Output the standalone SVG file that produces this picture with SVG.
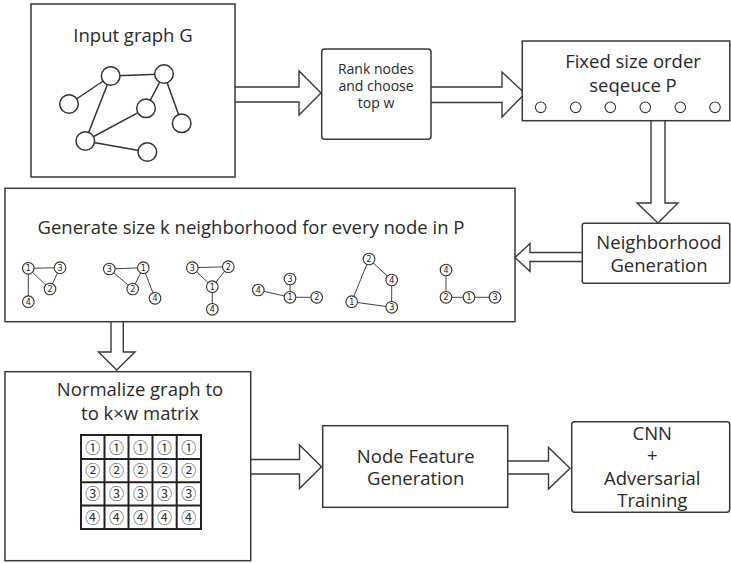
<svg xmlns="http://www.w3.org/2000/svg" width="731" height="563" viewBox="0 0 731 563">
  <style>
    .box { fill: #fff; stroke: #3a3a3a; stroke-width: 1.5; }
    .arrow { fill: #fff; stroke: #3a3a3a; stroke-width: 1.4; stroke-linejoin: miter; }
    .edge { stroke: #333; stroke-width: 1.5; fill: none; }
    .gnode { fill: #fff; stroke: #333; stroke-width: 1.5; }
    .snode { fill: #fff; stroke: #333; stroke-width: 1.1; }
    .sedge { stroke: #444; stroke-width: 1; fill: none; }
    .lbl { font-family: "Open Sans", "Noto Sans", sans-serif; fill: #2a2a2a; text-anchor: middle; }
    .big { font-size: 18.5px; }
    .small { font-size: 14px; }
    .num { font-family: "DejaVu Sans", sans-serif; font-size: 8px; fill: #222; text-anchor: middle; }
    .cell { font-family: "Noto Sans CJK SC", "DejaVu Sans", sans-serif; font-size: 15px; fill: #333; text-anchor: middle; }
    .grid { stroke: #222; stroke-width: 2; fill: none; }
  </style>

  <!-- connectors: hollow block arrows -->
  <g id="connectors">
    <path class="arrow" d="M235,87 H299 V71 L321,93 L299,115 V102 H235"/>
    <path class="arrow" d="M431,87 H502 V72 L525,93.5 L502,117 V102.5 H431"/>
    <path class="arrow" d="M651,121 V203 H637 L658,223 L678,203 H665 V121"/>
    <path class="arrow" d="M582,252.5 H530 V243.5 L515,257.5 L530,271.5 V261.5 H582"/>
    <path class="arrow" d="M111,322 V352 H98.5 L116.7,370 L135,352 H123.3 V322"/>
    <path class="arrow" d="M251,459.5 H299.5 V445 L321.5,466.7 L299.5,488.5 V474 H251"/>
    <path class="arrow" d="M508,461 H548.5 V447.5 L570,468.3 L548.5,489 V474 H508"/>
  </g>

  <!-- input graph -->
  <g id="input-graph">
    <rect class="box" x="31" y="4" width="204" height="173"/>
    <text class="lbl big" x="133" y="42">Input graph G</text>
    <g class="edge">
      <line x1="110.7" y1="76" x2="164" y2="74"/>
      <line x1="110.7" y1="76" x2="69" y2="104"/>
      <line x1="110.7" y1="76" x2="85.3" y2="141"/>
      <line x1="164" y1="74" x2="146" y2="108.3"/>
      <line x1="164" y1="74" x2="181.7" y2="123.3"/>
      <line x1="146" y1="108.3" x2="85.3" y2="141"/>
      <line x1="85.3" y1="141" x2="147.3" y2="152"/>
    </g>
    <circle class="gnode" cx="110.7" cy="76" r="9.3"/>
    <circle class="gnode" cx="164" cy="74" r="9.3"/>
    <circle class="gnode" cx="69" cy="104" r="9.3"/>
    <circle class="gnode" cx="146" cy="108.3" r="9.3"/>
    <circle class="gnode" cx="181.7" cy="123.3" r="9.3"/>
    <circle class="gnode" cx="85.3" cy="141" r="9.3"/>
    <circle class="gnode" cx="147.3" cy="152" r="9.3"/>
  </g>

  <!-- ranking step -->
  <g id="rank-nodes">
    <rect class="box" x="321.7" y="49" width="109.3" height="90.3" rx="3"/>
    <text class="lbl small" x="376" y="74">Rank nodes</text>
    <text class="lbl small" x="376" y="91">and choose</text>
    <text class="lbl small" x="376" y="108">top w</text>
  </g>

  <!-- ordered node sequence -->
  <g id="order-sequence">
    <rect class="box" x="522.3" y="41" width="207.5" height="79.7"/>
    <text class="lbl big" x="633" y="68">Fixed size order</text>
    <text class="lbl big" x="633" y="91.5">seqeuce P</text>
    <g class="snode">
      <circle cx="540.7" cy="107.3" r="5.3"/>
      <circle cx="575.7" cy="107.3" r="5.3"/>
      <circle cx="610.3" cy="107.3" r="5.3"/>
      <circle cx="645.3" cy="107.3" r="5.3"/>
      <circle cx="680.3" cy="107.3" r="5.3"/>
      <circle cx="715" cy="107.3" r="5.3"/>
    </g>
  </g>

  <!-- neighborhood generation -->
  <g id="neighborhood-generation">
    <rect class="box" x="582.3" y="223.3" width="147.5" height="60" rx="2"/>
    <text class="lbl big" x="659" y="248.5">Neighborhood</text>
    <text class="lbl big" x="659" y="271.5">Generation</text>
  </g>

  <!-- neighborhoods of size k -->
  <g id="neighborhoods">
    <rect class="box" x="5" y="188.3" width="510" height="133.4"/>
    <text class="lbl big" x="251" y="233.5">Generate size k neighborhood for every node in P</text>

    <!-- edges -->
    <g class="sedge">
      <line x1="28.3" y1="268.3" x2="60" y2="267.7"/>
      <line x1="28.3" y1="268.3" x2="50" y2="289"/>
      <line x1="60" y1="267.7" x2="50" y2="289"/>
      <line x1="28.3" y1="268.3" x2="28.3" y2="301.7"/>

      <line x1="109.3" y1="269" x2="143.3" y2="267.7"/>
      <line x1="109.3" y1="269" x2="132.7" y2="289"/>
      <line x1="143.3" y1="267.7" x2="132.7" y2="289"/>
      <line x1="143.3" y1="267.7" x2="155" y2="298.3"/>

      <line x1="192.3" y1="267.7" x2="228.3" y2="266.7"/>
      <line x1="192.3" y1="267.7" x2="212.3" y2="286.7"/>
      <line x1="228.3" y1="266.7" x2="212.3" y2="286.7"/>
      <line x1="212.3" y1="286.7" x2="212.3" y2="309.3"/>

      <line x1="290" y1="279" x2="290" y2="297.3"/>
      <line x1="258.3" y1="290" x2="290" y2="297.3"/>
      <line x1="290" y1="297.3" x2="316.7" y2="297.3"/>

      <line x1="369" y1="259" x2="391.7" y2="280"/>
      <line x1="391.7" y1="280" x2="391.7" y2="307.3"/>
      <line x1="369" y1="259" x2="351.7" y2="301.7"/>
      <line x1="351.7" y1="301.7" x2="391.7" y2="307.3"/>

      <line x1="446" y1="270" x2="446" y2="297.3"/>
      <line x1="446" y1="297.3" x2="469" y2="297.3"/>
      <line x1="469" y1="297.3" x2="495" y2="297.3"/>
    </g>

    <!-- nodes -->
    <g class="snode">
      <circle cx="28.3" cy="268.3" r="5.8"/>
      <circle cx="60" cy="267.7" r="5.8"/>
      <circle cx="50" cy="289" r="5.8"/>
      <circle cx="28.3" cy="301.7" r="5.8"/>

      <circle cx="109.3" cy="269" r="5.8"/>
      <circle cx="143.3" cy="267.7" r="5.8"/>
      <circle cx="132.7" cy="289" r="5.8"/>
      <circle cx="155" cy="298.3" r="5.8"/>

      <circle cx="192.3" cy="267.7" r="5.8"/>
      <circle cx="228.3" cy="266.7" r="5.8"/>
      <circle cx="212.3" cy="286.7" r="5.8"/>
      <circle cx="212.3" cy="309.3" r="5.8"/>

      <circle cx="290" cy="279" r="5.8"/>
      <circle cx="258.3" cy="290" r="5.8"/>
      <circle cx="290" cy="297.3" r="5.8"/>
      <circle cx="316.7" cy="297.3" r="5.8"/>

      <circle cx="369" cy="259" r="5.8"/>
      <circle cx="391.7" cy="280" r="5.8"/>
      <circle cx="391.7" cy="307.3" r="5.8"/>
      <circle cx="351.7" cy="301.7" r="5.8"/>

      <circle cx="446" cy="270" r="5.8"/>
      <circle cx="446" cy="297.3" r="5.8"/>
      <circle cx="469" cy="297.3" r="5.8"/>
      <circle cx="495" cy="297.3" r="5.8"/>
    </g>

    <!-- node numbers -->
    <g class="num">
      <text x="28.3" y="271.2">1</text>
      <text x="60" y="270.6">3</text>
      <text x="50" y="291.9">2</text>
      <text x="28.3" y="304.6">4</text>

      <text x="109.3" y="271.9">3</text>
      <text x="143.3" y="270.6">1</text>
      <text x="132.7" y="291.9">2</text>
      <text x="155" y="301.2">4</text>

      <text x="192.3" y="270.6">3</text>
      <text x="228.3" y="269.6">2</text>
      <text x="212.3" y="289.6">1</text>
      <text x="212.3" y="312.2">4</text>

      <text x="290" y="281.9">3</text>
      <text x="258.3" y="292.9">4</text>
      <text x="290" y="300.2">1</text>
      <text x="316.7" y="300.2">2</text>

      <text x="369" y="261.9">2</text>
      <text x="391.7" y="282.9">4</text>
      <text x="391.7" y="310.2">3</text>
      <text x="351.7" y="304.6">1</text>

      <text x="446" y="272.9">4</text>
      <text x="446" y="300.2">2</text>
      <text x="469" y="300.2">1</text>
      <text x="495" y="300.2">3</text>
    </g>
  </g>

  <!-- normalization into matrix -->
  <g id="normalize">
    <rect class="box" x="5" y="371.7" width="245.7" height="189"/>
    <text class="lbl big" x="140" y="396">Normalize graph to</text>
    <text class="lbl big" x="140" y="419.5">to k×w matrix</text>
    <g class="grid">
      <rect x="81" y="435" width="120" height="94"/>
      <line x1="104.5" y1="435" x2="104.5" y2="529"/>
      <line x1="128.5" y1="435" x2="128.5" y2="529"/>
      <line x1="152.5" y1="435" x2="152.5" y2="529"/>
      <line x1="176.7" y1="435" x2="176.7" y2="529"/>
      <line x1="81" y1="459" x2="201" y2="459"/>
      <line x1="81" y1="482.3" x2="201" y2="482.3"/>
      <line x1="81" y1="505.5" x2="201" y2="505.5"/>
    </g>
    <g class="cell">
      <text x="92.7" y="452.5">①</text><text x="116.5" y="452.5">①</text><text x="140.5" y="452.5">①</text><text x="164.6" y="452.5">①</text><text x="188.8" y="452.5">①</text>
      <text x="92.7" y="476">②</text><text x="116.5" y="476">②</text><text x="140.5" y="476">②</text><text x="164.6" y="476">②</text><text x="188.8" y="476">②</text>
      <text x="92.7" y="499.3">③</text><text x="116.5" y="499.3">③</text><text x="140.5" y="499.3">③</text><text x="164.6" y="499.3">③</text><text x="188.8" y="499.3">③</text>
      <text x="92.7" y="522.5">④</text><text x="116.5" y="522.5">④</text><text x="140.5" y="522.5">④</text><text x="164.6" y="522.5">④</text><text x="188.8" y="522.5">④</text>
    </g>
  </g>

  <!-- node features -->
  <g id="node-feature">
    <rect class="box" x="322.7" y="425.7" width="185" height="81.6"/>
    <text class="lbl big" x="415.7" y="462.5">Node Feature</text>
    <text class="lbl big" x="415.7" y="485">Generation</text>
  </g>

  <!-- classifier -->
  <g id="cnn">
    <rect class="box" x="571.7" y="421.7" width="158" height="90.6" rx="3"/>
    <text class="lbl big" x="652.3" y="440">CNN</text>
    <text class="lbl big" x="652.3" y="462">+</text>
    <text class="lbl big" x="652.3" y="485">Adversarial</text>
    <text class="lbl big" x="652.3" y="507">Training</text>
  </g>
</svg>
